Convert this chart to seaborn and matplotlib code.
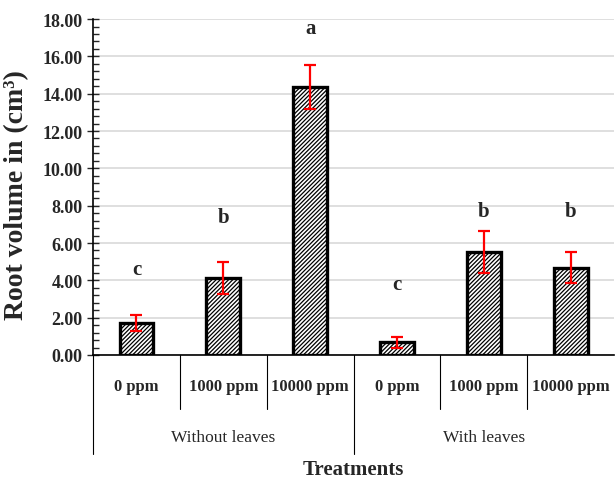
import matplotlib
matplotlib.use("Agg")
import matplotlib.pyplot as plt
import seaborn as sns
import pandas as pd
import numpy as np
from matplotlib.ticker import MultipleLocator

doses = ["0 ppm", "1000 ppm", "10000 ppm", "0 ppm", "1000 ppm", "10000 ppm"]
groups = ["Without leaves", "With leaves"]
means = [1.70, 4.12, 14.35, 0.68, 5.52, 4.68]
errors = [0.42, 0.85, 1.18, 0.30, 1.15, 0.83]
letters = ["c", "b", "a", "c", "b", "b"]
letter_y = [4.6, 7.4, 17.5, 3.8, 7.7, 7.7]

sns.set_theme(style="white")
plt.rcParams['font.family'] = ['Liberation Serif', 'DejaVu Serif']
plt.rcParams['hatch.linewidth'] = 0.9

fig = plt.figure(figsize=(6.16, 4.89), dpi=100)
ax = fig.add_axes([0.151, 0.272, 0.846, 0.687])

df = pd.DataFrame({"pos": [f"p{i}" for i in range(6)], "val": means})
sns.barplot(data=df, x="pos", y="val", ax=ax, color="white", edgecolor="black",
            linewidth=2.4, width=0.39, errorbar=None)
for p in ax.patches:
    p.set_hatch("////////")
    p.set_edgecolor("black")
x = np.arange(6)
ax.errorbar(x, means, yerr=errors, fmt="none", ecolor="red", elinewidth=1.6,
            capsize=4, capthick=1.6, zorder=5)
for xi, l, ly in zip(x, letters, letter_y):
    ax.text(xi, ly, l, ha="center", va="center", fontsize=15, fontweight="bold")

ax.set_xlim(-0.5, 5.5)
ax.set_ylim(0, 18)
ax.yaxis.set_major_locator(MultipleLocator(2))
ax.yaxis.set_minor_locator(MultipleLocator(0.4))
ax.set_yticklabels([f"{v:.2f}" for v in ax.get_yticks()], fontsize=13, fontweight="bold")
ax.tick_params(axis="y", which="major", direction="inout", length=8, width=1, left=True)
ax.tick_params(axis="y", which="minor", direction="in", length=4, width=1, left=True)
ax.grid(axis="y", color="#d9d9d9", linewidth=1.2)
ax.set_axisbelow(True)
for s in ["top", "right"]:
    ax.spines[s].set_visible(False)
ax.spines["left"].set_color("black")
ax.spines["bottom"].set_color("black")
ax.spines["left"].set_linewidth(1.2)
ax.spines["bottom"].set_linewidth(1.2)

ax.set_xticks([])
ax.set_xlabel("")
ax.set_ylabel("Root volume in (cm³)", fontsize=20, fontweight="bold")
ax.yaxis.set_label_coords(-0.122, 0.478)

trans = ax.get_xaxis_transform()
for xi, d in zip(x, doses):
    ax.text(xi, -0.093, d, transform=trans, ha="center", va="center", fontsize=12, fontweight="bold")
for gi, g in enumerate(groups):
    ax.text(1 + 3 * gi, -0.245, g, transform=trans, ha="center", va="center", fontsize=12.5)
ax.text(2.5, -0.34, "Treatments", transform=trans, ha="center", va="center", fontsize=15, fontweight="bold")

for b in [0.5, 1.5, 3.5, 4.5]:
    ax.plot([b, b], [0, -0.16], transform=trans, color="black", lw=0.8, clip_on=False)
for b in [-0.5, 2.5]:
    ax.plot([b, b], [0, -0.295], transform=trans, color="black", lw=0.8, clip_on=False)

fig.savefig("out.png", dpi=100)
